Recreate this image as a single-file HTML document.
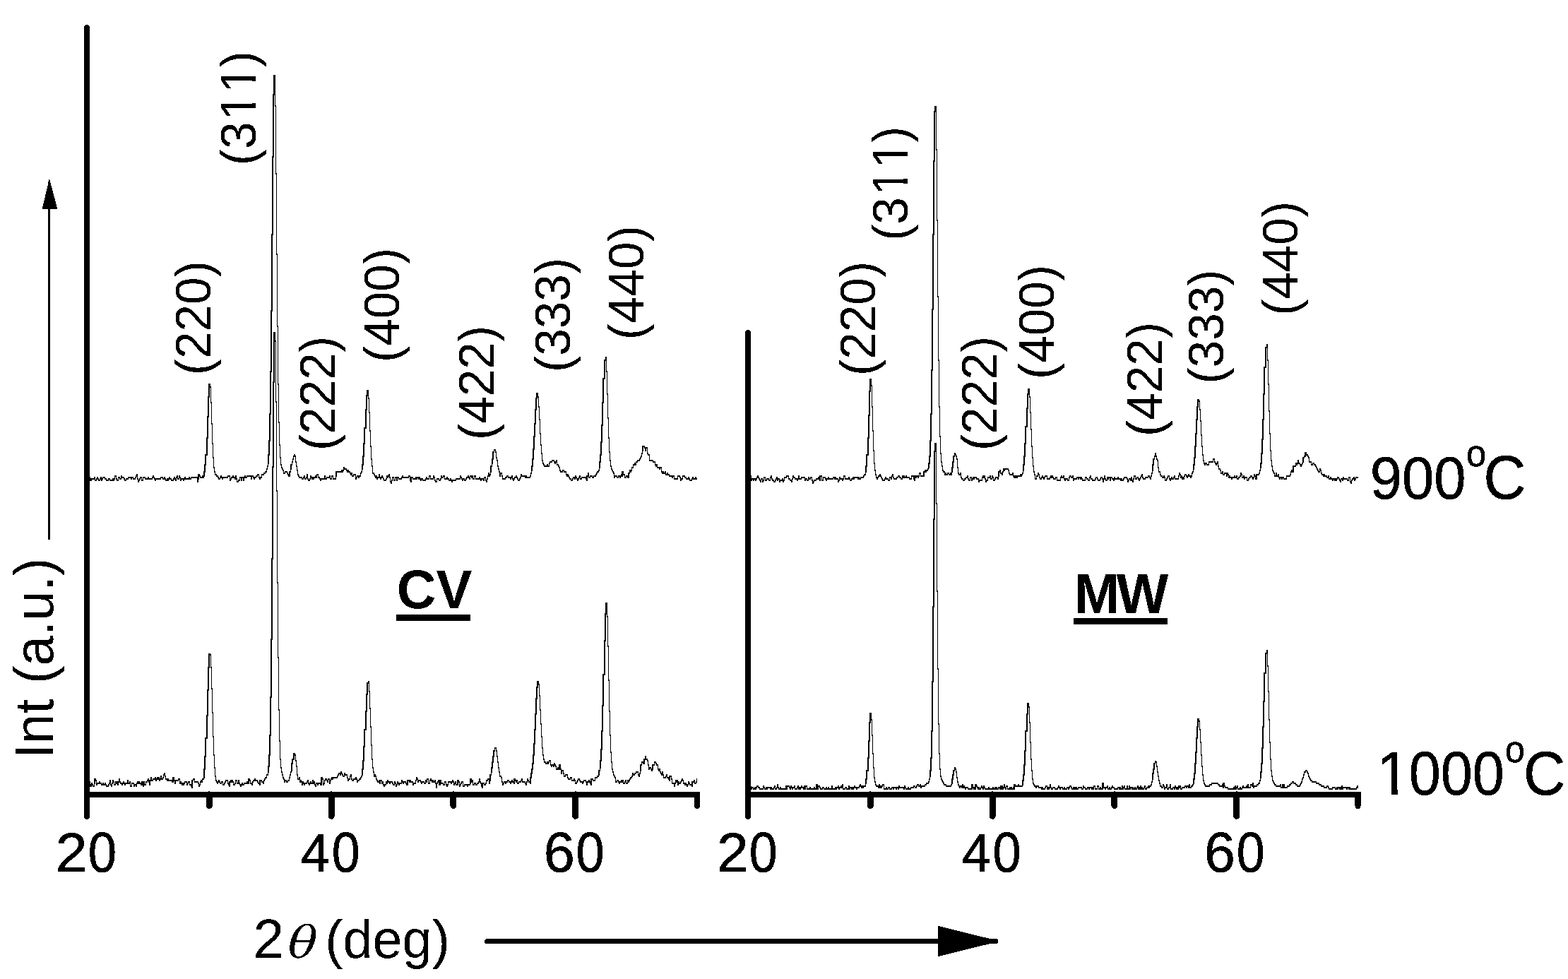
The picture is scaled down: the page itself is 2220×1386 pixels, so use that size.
<!DOCTYPE html>
<html lang="en"><head><meta charset="utf-8"><title>XRD patterns CV vs MW</title>
<style>html,body{margin:0;padding:0;background:#fff;}body{width:2220px;height:1386px;overflow:hidden;}svg{display:block;}</style></head>
<body>
<svg width="2220" height="1386" viewBox="0 0 2220 1386" style="font-kerning:none">
<defs><filter id="bin" x="0" y="0" width="100%" height="100%" filterUnits="userSpaceOnUse" color-interpolation-filters="sRGB"><feComponentTransfer><feFuncR type="discrete" tableValues="0 1"/><feFuncG type="discrete" tableValues="0 1"/><feFuncB type="discrete" tableValues="0 1"/></feComponentTransfer></filter></defs>
<g filter="url(#bin)">
<rect width="2220" height="1386" fill="#fff"/>
<g fill="none" stroke="#000" stroke-width="1" stroke-linejoin="miter" stroke-linecap="square" shape-rendering="crispEdges">
<path id="cv900" d="M127.5,675.5V677.5V679.5V677.5H128.5V679.5H129.5V677.5H130.5H131.5H132.5H133.5V675.5H134.5V679.5H135.5H136.5V677.5H137.5V675.5H138.5V677.5H139.5V679.5H140.5H141.5V677.5H142.5V675.5H143.5V679.5H144.5V677.5H145.5V675.5H146.5H147.5H148.5V677.5H149.5H150.5V679.5H152.5H153.5V677.5H154.5H155.5V679.5H156.5H157.5H158.5H159.5V677.5H160.5V679.5H161.5V677.5H162.5V673.5H163.5H164.5V677.5H165.5V679.5H166.5H167.5V675.5H168.5H169.5V677.5H170.5H171.5V673.5H172.5V675.5H173.5H174.5H175.5V677.5H176.5V679.5H177.5H178.5V677.5H180.5H181.5V675.5H182.5H183.5H184.5H185.5V677.5H186.5V675.5H187.5H188.5V677.5H189.5H190.5H191.5V675.5H192.5V673.5H193.5V671.5H194.5V677.5H195.5V681.5H196.5V679.5H197.5V677.5H198.5V675.5H199.5H200.5V679.5H201.5H202.5V675.5H203.5H204.5H205.5V677.5H206.5H208.5H209.5V675.5H210.5V677.5H211.5H212.5H213.5H214.5H215.5V675.5H216.5V673.5H217.5V675.5H218.5V677.5H219.5V679.5H220.5V677.5H221.5H222.5H223.5H224.5H225.5H226.5H227.5V675.5H228.5H229.5H230.5V677.5H231.5H232.5V675.5H233.5V677.5H234.5V679.5H236.5V677.5H237.5V679.5H238.5V677.5H239.5V675.5H240.5V677.5H241.5H242.5V679.5H243.5H244.5H245.5V677.5H246.5V675.5H247.5V677.5H248.5V679.5H249.5V675.5H250.5V673.5H251.5V677.5H252.5H253.5V673.5H254.5V675.5H255.5V679.5H256.5V677.5H257.5H258.5H259.5V679.5H260.5V677.5H261.5V675.5H262.5V677.5H264.5H265.5H266.5H267.5V675.5H268.5V677.5H269.5H270.5V675.5H271.5H272.5H273.5H274.5H275.5H276.5H277.5H278.5H279.5V681.5H280.5V677.5H281.5V671.5H282.5V673.5H283.5V675.5H284.5H285.5H286.5V673.5H287.5V675.5H288.5V673.5H289.5V667.5H290.5V657.5H291.5V643.5H293.5V619.5H294.5V589.5H295.5V561.5H296.5V543.5H297.5V547.5H298.5V569.5H299.5V599.5H300.5V627.5H301.5V647.5H302.5V661.5H303.5V667.5H304.5V671.5H305.5H306.5V673.5H307.5H308.5V675.5H309.5V677.5H310.5H311.5V675.5H312.5V673.5H313.5V675.5H314.5V677.5H315.5V675.5H316.5H317.5H318.5H319.5H321.5H322.5V673.5H323.5H324.5H325.5V679.5H326.5V677.5H327.5V675.5H328.5H329.5V673.5H330.5V675.5H331.5H332.5V677.5H333.5V673.5H334.5V677.5H335.5V681.5H336.5H337.5V679.5H338.5H339.5V675.5H340.5H341.5V679.5H342.5V675.5H343.5H344.5V679.5H345.5V675.5H346.5V673.5H347.5V675.5H349.5V673.5H350.5H351.5H352.5H353.5H354.5H355.5V677.5H356.5V673.5H357.5H358.5V675.5H359.5V677.5H360.5V675.5H361.5H362.5V673.5H363.5H364.5V671.5H365.5H366.5V675.5H367.5V677.5H368.5V675.5H369.5H370.5V671.5H371.5H372.5H373.5V669.5H374.5H375.5V667.5H377.5V663.5H378.5V659.5H379.5V655.5H380.5V643.5H381.5V623.5H382.5V585.5H383.5V525.5H384.5V439.5H385.5V331.5H386.5V221.5H387.5V133.5H388.5V106.5H389.5V149.5H390.5V245.5H391.5V359.5H392.5V461.5H393.5V543.5H394.5V597.5H395.5V629.5H396.5V647.5H397.5V657.5H398.5V661.5H399.5V663.5H400.5V665.5H401.5V669.5H402.5H403.5V667.5H405.5H406.5V669.5H407.5V671.5H408.5V673.5H409.5H410.5V667.5H411.5V663.5H412.5V657.5H413.5V653.5H414.5V649.5H415.5V645.5H416.5V643.5H417.5V645.5H418.5V653.5H419.5V659.5H420.5V665.5H421.5V671.5H422.5V673.5H423.5V675.5H424.5H425.5H426.5H427.5V677.5H428.5H429.5V675.5H430.5V673.5H431.5V677.5H433.5V675.5H434.5V671.5H435.5V677.5H436.5V679.5H437.5H438.5V677.5H439.5V673.5H440.5V675.5H441.5V677.5H442.5V675.5H443.5V677.5H444.5V675.5H445.5H446.5V673.5H447.5V675.5H448.5V671.5H449.5H450.5V675.5H451.5H452.5V677.5H453.5V679.5H454.5V677.5H455.5H456.5H457.5H458.5H459.5V673.5H460.5V677.5H462.5V675.5H463.5H464.5H465.5H466.5V673.5H467.5V677.5H468.5H469.5V673.5H470.5H471.5V677.5H472.5H473.5H474.5H475.5V673.5H476.5V667.5H477.5H478.5H479.5H480.5H481.5H482.5H483.5V665.5H484.5V667.5H485.5V665.5H486.5V661.5H487.5V663.5H488.5H490.5V665.5H491.5V667.5H492.5V665.5H493.5V667.5H494.5H495.5V669.5H496.5V671.5H497.5V669.5H498.5V673.5H499.5H500.5V671.5H501.5H502.5H503.5V677.5H504.5V675.5H505.5V673.5H506.5H507.5V675.5H508.5V673.5H509.5H510.5V669.5H511.5V667.5H512.5V663.5H513.5V657.5H514.5V645.5H515.5V627.5H516.5V605.5H518.5V579.5H519.5V559.5H520.5V552.5H521.5V563.5H522.5V583.5H523.5V609.5H524.5V631.5H525.5V649.5H526.5V659.5H527.5V669.5H528.5H529.5V671.5H530.5V673.5H531.5V675.5H532.5V673.5H533.5V677.5H534.5V675.5H535.5H536.5V671.5H537.5V675.5H538.5V677.5H539.5V675.5H540.5V673.5H541.5V675.5H542.5V677.5H543.5V679.5H544.5H546.5V677.5H547.5V673.5H548.5V675.5H549.5V673.5H550.5V671.5H551.5V675.5H552.5V681.5H553.5V683.5H554.5V679.5H555.5V675.5H556.5H557.5V679.5H558.5H559.5V675.5H560.5H561.5V679.5H562.5V675.5H563.5H564.5V677.5H565.5H566.5H567.5H568.5V675.5H569.5V673.5H570.5V675.5H571.5H572.5H574.5H575.5H576.5H577.5H578.5V673.5H579.5H580.5V679.5H581.5V681.5H582.5V675.5H583.5H584.5V677.5H585.5H586.5H587.5H588.5V675.5H589.5V677.5H590.5V675.5H591.5H592.5V677.5H593.5V675.5H594.5V677.5H595.5V679.5H596.5V677.5H597.5H598.5V679.5H599.5H600.5H602.5V677.5H603.5V675.5H604.5V677.5H605.5H606.5H607.5V673.5H608.5H609.5V677.5H610.5H611.5H612.5H613.5V673.5H614.5V675.5H615.5V679.5H616.5V681.5H617.5H618.5V677.5H619.5H620.5H621.5V679.5H622.5H623.5V677.5H624.5V673.5H625.5V675.5H626.5H627.5V673.5H628.5H629.5V677.5H631.5H632.5V675.5H633.5V677.5H634.5H635.5V679.5H636.5H637.5V677.5H638.5V679.5H639.5V681.5H640.5V679.5H641.5H642.5H643.5H644.5H645.5V677.5H646.5H647.5H648.5H649.5H650.5H651.5V673.5H652.5V675.5H653.5V677.5H654.5V679.5H655.5V677.5H656.5H657.5V679.5H659.5V677.5H660.5V675.5H661.5H662.5V673.5H663.5V675.5H664.5V677.5H665.5V673.5H666.5H667.5V675.5H668.5V673.5H669.5V677.5H670.5H671.5V673.5H672.5H673.5V677.5H674.5H675.5H676.5H677.5H678.5V675.5H679.5V677.5H680.5V679.5H681.5V677.5H682.5H683.5H684.5V679.5H685.5V675.5H687.5V679.5H688.5V681.5H689.5V677.5H690.5V673.5H691.5V669.5H692.5V673.5H693.5V671.5H694.5V667.5H695.5V659.5H696.5V655.5H697.5V649.5H698.5V639.5H699.5V636.5H700.5H701.5V639.5H702.5V647.5H703.5V651.5H704.5V659.5H705.5V663.5H706.5V667.5H707.5V673.5H708.5V669.5H709.5H710.5V673.5H711.5V677.5H712.5H713.5H715.5V675.5H716.5H717.5V673.5H718.5H719.5V675.5H720.5H721.5H722.5V677.5H723.5V675.5H724.5V673.5H725.5V677.5H726.5V679.5H727.5V677.5H728.5V675.5H729.5H730.5V673.5H731.5V675.5H732.5V677.5H733.5V679.5H734.5H735.5V677.5H736.5V675.5H737.5V671.5H738.5V673.5H739.5H740.5H741.5H743.5V675.5H744.5V673.5H745.5V675.5H746.5H747.5H748.5H749.5H750.5V673.5H751.5V669.5H752.5V665.5H753.5V659.5H754.5V649.5H755.5V635.5H756.5V617.5H757.5V599.5H758.5V579.5H759.5V563.5H760.5V556.5H761.5V561.5H762.5V575.5H763.5V593.5H764.5V613.5H765.5V629.5H766.5V641.5H767.5V651.5H768.5V655.5H769.5V657.5H770.5V659.5H772.5H773.5H774.5V657.5H775.5V659.5H776.5H777.5V655.5H778.5V653.5H779.5H780.5H781.5V651.5H782.5H783.5H784.5V653.5H785.5V655.5H786.5V653.5H787.5V651.5H788.5V657.5H789.5H790.5V659.5H791.5V661.5H792.5V665.5H793.5V667.5H794.5H795.5H796.5V665.5H797.5H798.5V667.5H800.5H801.5V671.5H802.5V673.5H803.5V671.5H804.5V673.5H805.5V675.5H806.5V677.5H807.5H808.5V679.5H809.5H810.5V677.5H811.5V675.5H812.5H813.5V677.5H814.5V673.5H815.5V675.5H816.5V677.5H817.5V679.5H818.5V677.5H819.5V675.5H820.5V673.5H821.5V677.5H822.5H823.5V675.5H824.5H825.5H826.5H828.5H829.5V677.5H830.5V679.5H831.5V673.5H832.5V669.5H833.5V675.5H834.5H835.5V673.5H836.5H837.5H838.5V675.5H839.5H840.5V673.5H841.5H842.5H843.5V671.5H844.5V669.5H845.5V667.5H846.5H847.5V665.5H848.5V661.5H849.5V653.5H850.5V643.5H851.5V625.5H852.5V601.5H853.5V569.5H854.5V535.5H856.5V509.5H857.5V505.5H858.5V525.5H859.5V557.5H860.5V591.5H861.5V619.5H862.5V639.5H863.5V651.5H864.5V659.5H865.5V663.5H866.5V665.5H867.5V667.5H868.5V669.5H869.5V675.5H870.5V673.5H871.5H872.5H873.5V675.5H874.5H875.5V673.5H876.5H877.5V675.5H878.5V673.5H879.5V671.5H880.5V673.5H881.5V667.5H882.5V671.5H884.5V675.5H885.5H886.5V673.5H887.5H888.5V675.5H889.5H890.5V669.5H891.5V665.5H892.5V667.5H893.5V665.5H894.5V661.5H895.5H896.5V657.5H897.5H898.5V655.5H899.5V657.5H900.5V653.5H901.5H902.5V651.5H903.5H904.5H905.5V649.5H906.5V647.5H907.5V645.5H908.5V641.5H909.5V637.5H910.5V631.5H912.5V633.5H913.5V637.5H914.5V633.5H915.5H916.5V641.5H917.5V643.5H918.5H919.5V651.5H920.5H921.5H922.5H923.5H924.5V653.5H925.5H926.5H927.5V657.5H928.5V659.5H929.5V657.5H930.5V661.5H931.5H932.5H933.5V663.5H934.5V661.5H935.5H936.5V667.5H937.5V669.5H938.5V667.5H939.5V669.5H941.5V667.5H942.5V671.5H943.5H944.5V669.5H945.5V671.5H946.5H947.5V673.5H948.5H949.5H950.5H951.5V675.5H952.5V673.5H953.5H954.5V677.5H955.5H956.5H957.5H958.5H959.5V673.5H960.5H961.5H962.5V675.5H963.5V679.5H964.5V677.5H965.5H966.5V673.5H967.5H969.5V675.5H970.5H971.5V677.5H972.5H973.5H974.5V675.5H975.5V677.5H976.5V679.5H977.5H978.5H979.5V677.5H980.5V675.5H981.5V677.5H982.5H983.5H984.5V675.5H985.5V677.5H986.5"/><use href="#cv900" y="1"/><path d="M280.5,678.5V671.5M288.5,674.5V667.5M289.5,668.5V657.5M290.5,658.5V643.5M292.5,644.5V619.5M293.5,620.5V589.5M294.5,590.5V561.5M295.5,562.5V543.5M379.5,656.5V643.5M380.5,644.5V623.5M381.5,624.5V585.5M382.5,586.5V525.5M383.5,526.5V439.5M384.5,440.5V331.5M385.5,332.5V221.5M386.5,222.5V133.5M387.5,134.5V106.5M409.5,674.5V667.5M411.5,664.5V657.5M475.5,674.5V667.5M512.5,664.5V657.5M513.5,658.5V645.5M514.5,646.5V627.5M515.5,628.5V605.5M517.5,606.5V579.5M518.5,580.5V559.5M519.5,560.5V552.5M581.5,682.5V675.5M694.5,668.5V659.5M696.5,656.5V649.5M697.5,650.5V639.5M752.5,666.5V659.5M753.5,660.5V649.5M754.5,650.5V635.5M755.5,636.5V617.5M756.5,618.5V599.5M757.5,600.5V579.5M758.5,580.5V563.5M759.5,564.5V556.5M830.5,680.5V673.5M848.5,662.5V653.5M849.5,654.5V643.5M850.5,644.5V625.5M851.5,626.5V601.5M852.5,602.5V569.5M853.5,570.5V535.5M855.5,536.5V509.5M880.5,674.5V667.5M889.5,676.5V669.5M909.5,638.5V631.5"/>
<path id="cv1000" d="M127.5,1106.5V1108.5V1112.5V1108.5V1110.5H128.5V1112.5H129.5V1108.5H130.5V1110.5H131.5V1112.5H132.5H133.5V1108.5H134.5V1102.5H135.5V1104.5H136.5V1110.5H137.5V1108.5H138.5H139.5H140.5V1106.5H141.5V1108.5H142.5H143.5V1110.5H144.5H145.5V1108.5H146.5V1110.5H147.5H148.5V1108.5H149.5V1110.5H150.5V1112.5H152.5H153.5V1110.5H154.5V1108.5H155.5V1104.5H156.5V1110.5H157.5V1112.5H158.5V1108.5H159.5V1104.5H160.5V1106.5H161.5V1110.5H162.5H163.5V1106.5H164.5V1108.5H165.5V1106.5H166.5V1110.5H167.5V1106.5H168.5V1102.5H169.5V1106.5H170.5V1108.5H171.5H172.5V1110.5H173.5V1108.5H174.5V1106.5H175.5V1108.5H176.5V1110.5H177.5V1108.5H178.5H180.5V1104.5H181.5V1108.5H182.5H183.5V1106.5H184.5V1112.5H185.5H186.5V1108.5H187.5H188.5H189.5V1112.5H190.5V1110.5H191.5H192.5V1112.5H193.5V1108.5H194.5V1106.5H195.5V1108.5H196.5V1106.5H197.5V1108.5H198.5H199.5V1110.5H200.5V1106.5H201.5V1110.5H202.5V1112.5H203.5V1106.5H204.5V1110.5H205.5H206.5V1106.5H208.5V1104.5H209.5V1102.5H210.5V1106.5H211.5V1110.5H212.5V1104.5H213.5V1100.5H214.5V1104.5H215.5H216.5V1102.5H217.5H218.5H219.5V1100.5H220.5V1104.5H221.5V1102.5H222.5V1100.5H223.5V1102.5H224.5V1100.5H225.5V1104.5H226.5V1102.5H227.5V1098.5H228.5V1102.5H229.5H230.5V1100.5H231.5V1096.5H232.5V1094.5H233.5V1098.5H234.5V1102.5H236.5V1104.5H237.5V1102.5H238.5V1104.5H239.5H240.5H241.5H242.5H243.5V1106.5H244.5H245.5V1100.5H246.5V1104.5H247.5V1108.5H248.5V1104.5H249.5H250.5H251.5H252.5V1102.5H253.5H254.5V1108.5H255.5V1106.5H256.5V1108.5H257.5V1110.5H258.5V1108.5H259.5V1110.5H260.5V1108.5H261.5V1106.5H262.5H264.5V1110.5H265.5V1108.5H266.5V1106.5H267.5H268.5V1110.5H269.5H270.5V1112.5H271.5V1114.5H272.5V1104.5H273.5V1102.5H274.5H275.5V1106.5H276.5H277.5H278.5H279.5H280.5V1108.5H281.5V1112.5H282.5V1110.5H283.5V1106.5H284.5V1104.5H285.5V1106.5H286.5V1102.5H287.5H288.5V1100.5H289.5V1088.5H290.5V1070.5H291.5V1044.5H293.5V1012.5H294.5V976.5H295.5V944.5H296.5V925.5H297.5V926.5H298.5V944.5H299.5V974.5H300.5V1008.5H301.5V1042.5H302.5V1068.5H303.5V1086.5H304.5V1098.5H305.5V1104.5H306.5V1106.5H307.5V1108.5H308.5V1106.5H309.5V1104.5H310.5V1106.5H311.5V1108.5H312.5H313.5V1106.5H314.5H315.5V1110.5H316.5H317.5V1108.5H318.5V1106.5H319.5V1104.5H321.5H322.5V1108.5H323.5V1110.5H324.5V1112.5H325.5V1106.5H326.5V1104.5H327.5V1106.5H328.5V1104.5H329.5V1106.5H330.5V1110.5H331.5H332.5V1108.5H333.5V1104.5H334.5H335.5V1108.5H336.5H337.5V1104.5H338.5V1108.5H339.5V1110.5H340.5V1112.5H341.5V1110.5H342.5V1108.5H343.5V1110.5H344.5H345.5V1108.5H346.5H347.5H349.5V1106.5H350.5V1108.5H351.5H352.5V1102.5H353.5V1104.5H354.5V1108.5H355.5H356.5V1110.5H357.5V1106.5H358.5V1104.5H359.5H360.5V1102.5H361.5V1104.5H362.5H363.5H364.5V1106.5H365.5V1108.5H366.5H367.5V1110.5H368.5V1104.5H369.5H370.5V1106.5H371.5H372.5V1108.5H373.5V1104.5H374.5V1102.5H375.5V1100.5H377.5V1096.5H378.5H379.5V1092.5H380.5V1084.5H381.5V1068.5H382.5V1040.5H383.5V986.5H384.5V904.5H385.5V790.5H386.5V660.5H387.5V540.5H388.5V470.5H389.5V482.5H390.5V568.5H391.5V694.5H392.5V824.5H393.5V930.5H394.5V1004.5H395.5V1048.5H396.5V1074.5H397.5V1086.5H398.5V1092.5H399.5V1096.5H400.5V1100.5H401.5V1102.5H402.5V1106.5H403.5V1104.5H405.5V1106.5H406.5H407.5V1104.5H408.5H409.5V1100.5H410.5V1096.5H411.5V1092.5H412.5V1090.5H413.5V1080.5H414.5V1074.5H415.5H416.5V1066.5H417.5V1068.5H418.5V1076.5H419.5V1084.5H420.5V1096.5H421.5V1102.5H422.5H423.5V1100.5H424.5V1106.5H425.5V1104.5H426.5V1106.5H427.5V1110.5H428.5V1106.5H429.5V1108.5H430.5V1110.5H431.5V1108.5H433.5H434.5V1106.5H435.5V1104.5H436.5V1108.5H437.5V1110.5H438.5V1108.5H439.5V1106.5H440.5V1108.5H441.5H442.5V1104.5H443.5V1108.5H444.5V1106.5H445.5V1110.5H446.5V1112.5H447.5V1108.5H448.5H449.5V1110.5H450.5V1108.5H451.5H452.5H453.5V1110.5H454.5H455.5V1100.5H456.5V1102.5H457.5V1110.5H458.5V1108.5H459.5V1104.5H460.5V1102.5H462.5V1104.5H463.5V1106.5H464.5V1102.5H465.5H466.5V1108.5H467.5V1104.5H468.5V1102.5H469.5V1100.5H470.5V1102.5H471.5V1100.5H472.5H473.5H474.5H475.5H476.5H477.5V1098.5H478.5V1096.5H479.5V1094.5H480.5H481.5V1096.5H482.5V1092.5H483.5V1094.5H484.5V1096.5H485.5V1098.5H486.5H487.5V1094.5H488.5V1096.5H490.5H491.5V1100.5H492.5V1104.5H493.5V1102.5H494.5H495.5V1098.5H496.5V1096.5H497.5V1102.5H498.5V1104.5H499.5H500.5V1102.5H501.5H502.5H503.5V1100.5H504.5V1102.5H505.5V1106.5H506.5V1104.5H507.5H508.5V1102.5H509.5H510.5V1100.5H511.5V1098.5H512.5V1096.5H513.5V1088.5H514.5V1076.5H515.5V1056.5H516.5V1032.5H518.5V1006.5H519.5V982.5H520.5V966.5H521.5V964.5H522.5V978.5H523.5V1002.5H524.5V1028.5H525.5V1054.5H526.5V1074.5H527.5V1086.5H528.5V1092.5H529.5V1098.5H530.5V1096.5H531.5V1098.5H532.5V1102.5H533.5V1104.5H534.5V1106.5H535.5H536.5V1104.5H537.5V1108.5H538.5V1104.5H539.5H540.5V1108.5H541.5V1106.5H542.5V1110.5H543.5V1112.5H544.5V1110.5H546.5V1106.5H547.5V1108.5H548.5V1104.5H549.5V1106.5H550.5H551.5V1108.5H552.5V1106.5H553.5H554.5H555.5V1108.5H556.5V1110.5H557.5H558.5V1106.5H559.5V1108.5H560.5V1112.5H561.5V1110.5H562.5V1106.5H563.5V1108.5H564.5V1110.5H565.5V1108.5H566.5H567.5H568.5V1104.5H569.5V1106.5H570.5V1108.5H571.5V1106.5H572.5H574.5V1108.5H575.5V1110.5H576.5H577.5V1104.5H578.5H579.5V1106.5H580.5V1104.5H581.5V1106.5H582.5H583.5H584.5V1110.5H585.5V1108.5H586.5H587.5H588.5V1104.5H589.5V1100.5H590.5V1102.5H591.5V1106.5H592.5V1104.5H593.5H594.5H595.5V1106.5H596.5V1108.5H597.5V1106.5H598.5H599.5H600.5V1108.5H602.5V1104.5H603.5V1106.5H604.5V1102.5H605.5H606.5V1108.5H607.5H608.5V1104.5H609.5V1102.5H610.5V1104.5H611.5V1106.5H612.5V1104.5H613.5V1106.5H614.5H615.5V1104.5H616.5V1108.5H617.5V1114.5H618.5V1108.5H619.5V1106.5H620.5V1104.5H621.5V1110.5H622.5H623.5V1104.5H624.5V1108.5H625.5H626.5H627.5V1110.5H628.5H629.5V1106.5H631.5V1110.5H632.5V1112.5H633.5V1110.5H634.5V1106.5H635.5H636.5H637.5H638.5V1108.5H639.5V1106.5H640.5V1104.5H641.5V1106.5H642.5V1110.5H643.5V1108.5H644.5V1106.5H645.5V1110.5H646.5H647.5H648.5V1104.5H649.5V1106.5H650.5V1112.5H651.5V1110.5H652.5V1108.5H653.5V1106.5H654.5H655.5V1112.5H656.5H657.5V1110.5H659.5H660.5H661.5V1112.5H662.5V1110.5H663.5H664.5H665.5V1108.5H666.5V1102.5H667.5V1106.5H668.5V1104.5H669.5V1110.5H670.5H671.5V1108.5H672.5H673.5V1110.5H674.5H675.5V1108.5H676.5H677.5V1106.5H678.5V1102.5H679.5V1106.5H680.5V1108.5H681.5V1112.5H682.5V1114.5H683.5V1108.5H684.5H685.5V1110.5H687.5V1108.5H688.5V1104.5H689.5H690.5V1102.5H691.5H692.5V1108.5H693.5V1104.5H694.5V1096.5H695.5V1092.5H696.5V1086.5H697.5V1078.5H698.5V1070.5H699.5V1062.5H700.5V1058.5H701.5H702.5V1062.5H703.5V1070.5H704.5V1078.5H705.5V1086.5H706.5V1092.5H707.5V1098.5H708.5H709.5V1100.5H710.5V1106.5H711.5V1110.5H712.5V1108.5H713.5V1106.5H715.5V1108.5H716.5V1106.5H717.5H718.5V1104.5H719.5H720.5V1106.5H721.5H722.5V1108.5H723.5V1106.5H724.5V1104.5H725.5V1106.5H726.5H727.5V1108.5H728.5V1102.5H729.5V1104.5H730.5V1106.5H731.5V1104.5H732.5V1108.5H733.5H734.5V1106.5H735.5H736.5H737.5V1104.5H738.5V1102.5H739.5V1106.5H740.5H741.5H743.5V1108.5H744.5V1110.5H745.5V1106.5H746.5V1102.5H747.5V1104.5H748.5V1106.5H749.5H750.5V1108.5H751.5V1100.5H752.5V1094.5H753.5V1088.5H754.5V1080.5H755.5V1068.5H756.5V1052.5H757.5V1032.5H758.5V1010.5H759.5V988.5H760.5V972.5H761.5V964.5H762.5V968.5H763.5V984.5H764.5V1004.5H765.5V1024.5H766.5V1042.5H767.5V1058.5H768.5V1068.5H769.5V1074.5H770.5V1078.5H772.5V1080.5H773.5H774.5V1078.5H775.5V1080.5H776.5V1078.5H777.5V1076.5H778.5H779.5V1082.5H780.5V1084.5H781.5V1082.5H782.5H783.5V1084.5H784.5V1080.5H785.5V1082.5H786.5V1084.5H787.5V1088.5H788.5H789.5V1086.5H790.5V1088.5H791.5H792.5V1082.5H793.5V1088.5H794.5V1094.5H795.5V1090.5H796.5H797.5V1094.5H798.5V1098.5H800.5V1096.5H801.5H802.5H803.5V1100.5H804.5V1102.5H805.5H806.5H807.5V1100.5H808.5H809.5V1104.5H810.5H811.5H812.5V1102.5H813.5V1104.5H814.5V1108.5H815.5H816.5V1106.5H817.5V1104.5H818.5V1102.5H819.5H820.5V1104.5H821.5V1106.5H822.5H823.5H824.5V1108.5H825.5V1106.5H826.5V1104.5H828.5H829.5V1106.5H830.5V1110.5H831.5V1106.5H832.5H833.5V1104.5H834.5V1106.5H835.5V1108.5H836.5V1110.5H837.5V1102.5H838.5H839.5V1104.5H840.5H841.5H842.5V1100.5H843.5H844.5H845.5V1098.5H846.5H847.5V1096.5H848.5V1090.5H849.5V1086.5H850.5V1076.5H851.5V1060.5H852.5V1034.5H853.5V998.5H854.5V954.5H856.5V906.5H857.5V868.5H858.5V853.5H859.5V872.5H860.5V914.5H861.5V962.5H862.5V1006.5H863.5V1040.5H864.5V1064.5H865.5V1078.5H866.5V1088.5H867.5V1092.5H868.5V1096.5H869.5V1098.5H870.5V1100.5H871.5V1106.5H872.5H873.5V1104.5H874.5H875.5V1106.5H876.5V1108.5H877.5V1106.5H878.5H879.5V1104.5H880.5V1106.5H881.5V1104.5H882.5V1108.5H884.5V1106.5H885.5V1104.5H886.5V1108.5H887.5H888.5V1104.5H889.5V1106.5H890.5V1104.5H891.5V1102.5H892.5V1100.5H893.5H894.5V1098.5H895.5V1094.5H896.5V1096.5H897.5H898.5V1094.5H899.5H900.5V1092.5H901.5H902.5H903.5V1096.5H904.5V1098.5H905.5V1094.5H906.5V1090.5H907.5V1082.5H908.5V1078.5H909.5H910.5V1080.5H912.5V1074.5H913.5V1070.5H914.5V1074.5H915.5H916.5V1076.5H917.5V1082.5H918.5V1088.5H919.5V1086.5H920.5H921.5V1088.5H922.5V1090.5H923.5V1088.5H924.5V1082.5H925.5H926.5V1078.5H927.5H928.5V1080.5H929.5V1082.5H930.5H931.5V1088.5H932.5V1090.5H933.5V1088.5H934.5V1092.5H935.5V1094.5H936.5V1096.5H937.5V1092.5H938.5V1096.5H939.5V1100.5H941.5H942.5V1098.5H943.5V1096.5H944.5V1100.5H945.5H946.5V1102.5H947.5V1104.5H948.5V1098.5H949.5H950.5V1102.5H951.5V1108.5H952.5H953.5H954.5V1112.5H955.5V1108.5H956.5V1104.5H957.5V1106.5H958.5V1104.5H959.5V1110.5H960.5V1106.5H961.5V1108.5H962.5H963.5V1106.5H964.5V1104.5H965.5V1102.5H966.5V1104.5H967.5V1108.5H969.5V1110.5H970.5V1108.5H971.5V1110.5H972.5V1112.5H973.5V1110.5H974.5V1106.5H975.5V1108.5H976.5V1110.5H977.5H978.5H979.5V1112.5H980.5V1106.5H981.5H982.5V1104.5H983.5V1108.5H984.5H985.5V1106.5H986.5V1102.5"/><use href="#cv1000" y="1"/><path d="M133.5,1109.5V1102.5M202.5,1113.5V1106.5M211.5,1111.5V1104.5M244.5,1107.5V1100.5M271.5,1115.5V1104.5M288.5,1101.5V1088.5M289.5,1089.5V1070.5M290.5,1071.5V1044.5M292.5,1045.5V1012.5M293.5,1013.5V976.5M294.5,977.5V944.5M295.5,945.5V925.5M324.5,1113.5V1106.5M351.5,1109.5V1102.5M367.5,1111.5V1104.5M379.5,1093.5V1084.5M380.5,1085.5V1068.5M381.5,1069.5V1040.5M382.5,1041.5V986.5M383.5,987.5V904.5M384.5,905.5V790.5M385.5,791.5V660.5M386.5,661.5V540.5M387.5,541.5V470.5M412.5,1091.5V1080.5M413.5,1081.5V1074.5M415.5,1075.5V1066.5M454.5,1111.5V1100.5M512.5,1097.5V1088.5M513.5,1089.5V1076.5M514.5,1077.5V1056.5M515.5,1057.5V1032.5M517.5,1033.5V1006.5M518.5,1007.5V982.5M519.5,983.5V966.5M576.5,1111.5V1104.5M617.5,1115.5V1108.5M622.5,1111.5V1104.5M647.5,1111.5V1104.5M665.5,1109.5V1102.5M682.5,1115.5V1108.5M693.5,1105.5V1096.5M695.5,1093.5V1086.5M696.5,1087.5V1078.5M697.5,1079.5V1070.5M698.5,1071.5V1062.5M727.5,1109.5V1102.5M750.5,1109.5V1100.5M751.5,1101.5V1094.5M752.5,1095.5V1088.5M753.5,1089.5V1080.5M754.5,1081.5V1068.5M755.5,1069.5V1052.5M756.5,1053.5V1032.5M757.5,1033.5V1010.5M758.5,1011.5V988.5M759.5,989.5V972.5M760.5,973.5V964.5M791.5,1089.5V1082.5M836.5,1111.5V1102.5M847.5,1097.5V1090.5M849.5,1087.5V1076.5M850.5,1077.5V1060.5M851.5,1061.5V1034.5M852.5,1035.5V998.5M853.5,999.5V954.5M855.5,955.5V906.5M856.5,907.5V868.5M857.5,869.5V853.5M906.5,1091.5V1082.5M911.5,1081.5V1074.5M923.5,1089.5V1082.5M947.5,1105.5V1098.5M979.5,1113.5V1106.5"/>
<path id="mw900" d="M1063.5,673.5V675.5V677.5V679.5H1064.5V677.5H1065.5H1066.5V679.5H1067.5V677.5H1068.5H1069.5V679.5H1070.5V677.5H1071.5V675.5H1072.5V673.5H1073.5V675.5H1074.5V677.5H1075.5V679.5H1076.5V681.5H1077.5V677.5H1078.5H1079.5V681.5H1080.5V679.5H1081.5V675.5H1082.5H1083.5V679.5H1084.5H1085.5V677.5H1086.5H1088.5V679.5H1089.5H1090.5V675.5H1091.5V673.5H1092.5V677.5H1093.5V679.5H1094.5H1095.5V681.5H1096.5H1097.5V679.5H1098.5V677.5H1099.5V675.5H1100.5V679.5H1101.5V677.5H1102.5H1103.5V681.5H1104.5V679.5H1105.5H1106.5H1107.5V677.5H1108.5V681.5H1109.5V679.5H1110.5V675.5H1111.5H1112.5H1113.5V673.5H1114.5H1116.5V677.5H1117.5H1118.5V679.5H1119.5H1120.5V681.5H1121.5V677.5H1122.5V673.5H1123.5V675.5H1124.5H1125.5V677.5H1126.5H1127.5H1128.5V679.5H1129.5V677.5H1130.5V673.5H1131.5V677.5H1132.5H1133.5H1134.5V675.5H1135.5H1136.5H1137.5H1138.5H1139.5V679.5H1140.5V677.5H1141.5H1142.5V679.5H1144.5V675.5H1145.5V677.5H1146.5H1147.5V675.5H1148.5H1149.5V679.5H1150.5V683.5H1151.5V681.5H1152.5V679.5H1153.5H1154.5H1155.5V677.5H1156.5H1157.5H1158.5V675.5H1159.5V677.5H1160.5V679.5H1161.5V673.5H1162.5H1163.5V679.5H1164.5H1165.5V675.5H1166.5H1167.5H1168.5V677.5H1169.5V679.5H1170.5V677.5H1172.5V675.5H1173.5V677.5H1174.5H1175.5H1176.5H1177.5H1178.5H1179.5V675.5H1180.5H1181.5V677.5H1182.5V675.5H1183.5V677.5H1184.5H1185.5H1186.5V681.5H1187.5V679.5H1188.5V675.5H1189.5V677.5H1190.5H1191.5H1192.5V679.5H1193.5V677.5H1194.5V673.5H1195.5H1196.5V677.5H1197.5H1198.5H1200.5H1201.5V675.5H1202.5V677.5H1203.5V679.5H1204.5H1205.5V677.5H1206.5H1207.5V675.5H1208.5V677.5H1209.5V675.5H1210.5H1211.5H1212.5H1213.5H1214.5V677.5H1215.5V675.5H1216.5V677.5H1217.5H1218.5V675.5H1219.5H1220.5H1221.5H1222.5V673.5H1223.5V671.5H1224.5H1225.5V667.5H1226.5V659.5H1227.5V643.5H1229.5V619.5H1230.5V587.5H1231.5V553.5H1232.5V536.5H1233.5V545.5H1234.5V575.5H1235.5V609.5H1236.5V637.5H1237.5V655.5H1238.5V665.5H1239.5V671.5H1240.5V675.5H1241.5V677.5H1242.5V675.5H1243.5V673.5H1244.5H1245.5V671.5H1246.5V673.5H1247.5V675.5H1248.5V677.5H1249.5V679.5H1250.5H1251.5H1252.5V677.5H1253.5V675.5H1254.5V677.5H1255.5H1257.5V679.5H1258.5H1259.5V675.5H1260.5H1261.5V677.5H1262.5V673.5H1263.5V671.5H1264.5V675.5H1265.5V677.5H1266.5H1267.5H1268.5H1269.5V675.5H1270.5H1271.5V673.5H1272.5H1273.5V675.5H1274.5H1275.5V677.5H1276.5H1277.5V673.5H1278.5V675.5H1279.5V673.5H1280.5V675.5H1281.5H1282.5V673.5H1283.5V675.5H1285.5H1286.5H1287.5V677.5H1288.5H1289.5H1290.5V673.5H1291.5H1292.5H1293.5V677.5H1294.5V679.5H1295.5V673.5H1296.5V675.5H1297.5V673.5H1298.5H1299.5V675.5H1300.5V673.5H1301.5V669.5H1302.5H1303.5V673.5H1304.5H1305.5H1306.5H1307.5H1308.5V667.5H1309.5V665.5H1310.5V667.5H1311.5V665.5H1313.5V663.5H1314.5V661.5H1315.5V655.5H1316.5V645.5H1317.5V623.5H1318.5V585.5H1319.5V523.5H1320.5V437.5H1321.5V331.5H1322.5V227.5H1323.5V157.5H1324.5V150.5H1325.5V211.5H1326.5V311.5H1327.5V419.5H1328.5V509.5H1329.5V575.5H1330.5V617.5H1331.5V641.5H1332.5V653.5H1333.5V659.5H1334.5V665.5H1335.5V667.5H1336.5H1337.5V671.5H1338.5V669.5H1339.5V671.5H1341.5V669.5H1342.5H1343.5V671.5H1344.5H1345.5V669.5H1346.5V671.5H1347.5V667.5H1348.5V661.5H1349.5V653.5H1350.5V645.5H1351.5V641.5H1352.5V643.5H1353.5V645.5H1354.5V649.5H1355.5V661.5H1356.5V669.5H1357.5V671.5H1358.5H1359.5V669.5H1360.5V675.5H1361.5V677.5H1362.5H1363.5V679.5H1364.5H1365.5V677.5H1366.5H1367.5V675.5H1369.5V673.5H1370.5V677.5H1371.5V679.5H1372.5H1373.5V675.5H1374.5H1375.5V679.5H1376.5V677.5H1377.5V675.5H1378.5V677.5H1379.5V675.5H1380.5H1381.5H1382.5V677.5H1383.5H1384.5H1385.5V681.5H1386.5V679.5H1387.5H1388.5H1389.5H1390.5V675.5H1391.5V673.5H1392.5V675.5H1393.5V673.5H1394.5V677.5H1395.5V681.5H1396.5V679.5H1398.5V675.5H1399.5H1400.5H1401.5V673.5H1402.5V677.5H1403.5H1404.5V673.5H1405.5V675.5H1406.5V679.5H1407.5H1408.5V677.5H1409.5V675.5H1410.5H1411.5H1412.5V677.5H1413.5V673.5H1414.5V667.5H1415.5V665.5H1416.5V669.5H1417.5H1418.5V671.5H1419.5V667.5H1420.5V663.5H1421.5V665.5H1422.5V663.5H1423.5H1424.5H1426.5H1427.5V665.5H1428.5V669.5H1429.5V671.5H1430.5H1431.5H1432.5H1433.5V669.5H1434.5V673.5H1435.5V675.5H1436.5V673.5H1437.5V675.5H1438.5V673.5H1439.5V675.5H1440.5V673.5H1441.5H1442.5H1443.5H1444.5V671.5H1445.5V673.5H1446.5V671.5H1447.5V669.5H1448.5V665.5H1449.5V657.5H1450.5V645.5H1451.5V627.5H1452.5V603.5H1454.5V577.5H1455.5V557.5H1456.5V550.5H1457.5V561.5H1458.5V583.5H1459.5V607.5H1460.5V631.5H1461.5V647.5H1462.5V659.5H1463.5V667.5H1464.5V671.5H1465.5V677.5H1466.5H1467.5V673.5H1468.5H1469.5V669.5H1470.5V671.5H1471.5V675.5H1472.5V677.5H1473.5H1474.5V675.5H1475.5V673.5H1476.5V675.5H1477.5V677.5H1478.5V675.5H1479.5V673.5H1480.5H1482.5V677.5H1483.5H1484.5H1485.5H1486.5V675.5H1487.5V673.5H1488.5V675.5H1489.5V673.5H1490.5V675.5H1491.5V677.5H1492.5H1493.5H1494.5V675.5H1495.5H1496.5V679.5H1497.5H1498.5H1499.5H1500.5H1501.5V675.5H1502.5V673.5H1503.5V675.5H1504.5H1505.5V673.5H1506.5V677.5H1507.5V679.5H1508.5V677.5H1510.5H1511.5V679.5H1512.5H1513.5V675.5H1514.5V673.5H1515.5H1516.5V675.5H1517.5H1518.5V673.5H1519.5V679.5H1520.5V677.5H1521.5H1522.5H1523.5H1524.5V675.5H1525.5H1526.5V677.5H1527.5V675.5H1528.5H1529.5V677.5H1530.5V675.5H1531.5V677.5H1532.5V679.5H1533.5H1534.5H1535.5H1536.5V675.5H1538.5V677.5H1539.5H1540.5V679.5H1541.5H1542.5V675.5H1543.5V673.5H1544.5V677.5H1545.5H1546.5V679.5H1547.5H1548.5H1549.5H1550.5V677.5H1551.5V675.5H1552.5H1553.5V677.5H1554.5V679.5H1555.5H1556.5H1557.5V677.5H1558.5V675.5H1559.5H1560.5V677.5H1561.5V681.5H1562.5V677.5H1563.5V673.5H1564.5V677.5H1565.5V679.5H1567.5V675.5H1568.5V677.5H1569.5V675.5H1570.5H1571.5V679.5H1572.5V675.5H1573.5H1574.5V677.5H1575.5H1576.5V679.5H1577.5V675.5H1578.5V677.5H1579.5H1580.5H1581.5H1582.5V675.5H1583.5V677.5H1584.5H1585.5H1586.5V679.5H1587.5V677.5H1588.5V679.5H1589.5H1590.5V677.5H1591.5V675.5H1592.5H1593.5H1595.5V677.5H1596.5V681.5H1597.5V679.5H1598.5V677.5H1599.5H1600.5V679.5H1601.5V675.5H1602.5V679.5H1603.5V681.5H1604.5V677.5H1605.5V673.5H1606.5H1607.5V677.5H1608.5H1609.5V675.5H1610.5H1611.5V677.5H1612.5V679.5H1613.5V677.5H1614.5V675.5H1615.5V673.5H1616.5V671.5H1617.5V675.5H1618.5V677.5H1619.5H1620.5H1621.5V675.5H1623.5H1624.5H1625.5V673.5H1626.5H1627.5V675.5H1628.5V677.5H1629.5V673.5H1630.5V669.5H1631.5V665.5H1632.5V657.5H1633.5V649.5H1634.5V645.5H1635.5V641.5H1636.5V645.5H1637.5V649.5H1638.5V651.5H1639.5V661.5H1640.5V667.5H1641.5H1642.5V671.5H1643.5V673.5H1644.5H1645.5V675.5H1646.5H1647.5V673.5H1648.5V675.5H1649.5V679.5H1651.5V677.5H1652.5V675.5H1653.5V673.5H1654.5H1655.5V677.5H1656.5V679.5H1657.5V677.5H1658.5V675.5H1659.5V677.5H1660.5H1661.5V675.5H1662.5V673.5H1663.5V677.5H1664.5H1665.5H1666.5H1667.5H1668.5V673.5H1669.5V669.5H1670.5V671.5H1671.5V675.5H1672.5V673.5H1673.5V677.5H1674.5V675.5H1675.5V677.5H1676.5V673.5H1677.5V671.5H1679.5V673.5H1680.5V675.5H1681.5V673.5H1682.5V671.5H1683.5V673.5H1684.5H1685.5V675.5H1686.5V673.5H1687.5V669.5H1688.5V667.5H1689.5V663.5H1690.5V657.5H1691.5V647.5H1692.5V631.5H1693.5V613.5H1694.5V593.5H1695.5V575.5H1696.5V565.5H1697.5V567.5H1698.5V579.5H1699.5V595.5H1700.5V615.5H1701.5V631.5H1702.5V643.5H1703.5V651.5H1704.5V655.5H1705.5V657.5H1706.5V655.5H1708.5V657.5H1709.5H1710.5H1711.5V653.5H1712.5H1713.5H1714.5H1715.5H1716.5H1717.5V649.5H1718.5H1719.5V653.5H1720.5V655.5H1721.5V657.5H1722.5V655.5H1723.5V653.5H1724.5V659.5H1725.5V663.5H1726.5H1727.5V665.5H1728.5V669.5H1729.5H1730.5V667.5H1731.5V671.5H1732.5H1733.5V669.5H1734.5H1736.5V673.5H1737.5V669.5H1738.5V671.5H1739.5V675.5H1740.5V673.5H1741.5V675.5H1742.5H1743.5V677.5H1744.5V675.5H1745.5H1746.5H1747.5V673.5H1748.5V675.5H1749.5H1750.5V673.5H1751.5V677.5H1752.5H1753.5V675.5H1754.5H1755.5V673.5H1756.5V669.5H1757.5V671.5H1758.5V675.5H1759.5H1760.5V673.5H1761.5V677.5H1762.5V675.5H1764.5H1765.5V679.5H1766.5H1767.5V677.5H1768.5V675.5H1769.5H1770.5V673.5H1771.5H1772.5V675.5H1773.5V677.5H1774.5V675.5H1775.5V671.5H1776.5V673.5H1777.5V677.5H1778.5H1779.5V671.5H1780.5H1781.5H1782.5V669.5H1783.5V665.5H1784.5V661.5H1785.5V655.5H1786.5V641.5H1787.5V621.5H1788.5V593.5H1789.5V557.5H1790.5V519.5H1792.5V491.5H1793.5V487.5H1794.5V509.5H1795.5V543.5H1796.5V581.5H1797.5V613.5H1798.5V637.5H1799.5V651.5H1800.5V659.5H1801.5V665.5H1802.5V667.5H1803.5V669.5H1804.5V673.5H1805.5H1806.5V669.5H1807.5V673.5H1808.5H1809.5V671.5H1810.5V675.5H1811.5V677.5H1812.5V675.5H1813.5H1814.5V677.5H1815.5V675.5H1816.5H1817.5V677.5H1818.5H1820.5H1821.5V673.5H1822.5H1823.5H1824.5H1825.5H1826.5V671.5H1827.5V667.5H1828.5V665.5H1829.5V667.5H1830.5H1831.5V659.5H1832.5H1833.5H1834.5V655.5H1835.5V657.5H1836.5V655.5H1837.5V651.5H1838.5V655.5H1839.5H1840.5V657.5H1841.5V659.5H1842.5V657.5H1843.5V655.5H1844.5V653.5H1845.5V647.5H1846.5V645.5H1848.5V640.5H1849.5V643.5H1850.5H1851.5V645.5H1852.5V647.5H1853.5V653.5H1854.5H1855.5H1856.5V657.5H1857.5H1858.5V655.5H1859.5H1860.5V657.5H1861.5H1862.5V659.5H1863.5V661.5H1864.5V663.5H1865.5V665.5H1866.5V667.5H1867.5H1868.5V663.5H1869.5V665.5H1870.5V669.5H1871.5V671.5H1872.5H1873.5V673.5H1874.5V671.5H1875.5V673.5H1877.5H1878.5V675.5H1879.5H1880.5V673.5H1881.5V677.5H1882.5H1883.5V675.5H1884.5V677.5H1885.5H1886.5V679.5H1887.5V677.5H1888.5H1889.5V679.5H1890.5V677.5H1891.5V679.5H1892.5V677.5H1893.5V675.5H1894.5H1895.5V677.5H1896.5V679.5H1897.5V681.5H1898.5V677.5H1899.5H1900.5V679.5H1901.5V675.5H1902.5V677.5H1903.5H1905.5H1906.5H1907.5V679.5H1908.5H1909.5V675.5H1910.5H1911.5V681.5H1912.5V683.5H1913.5V679.5H1914.5V677.5H1915.5H1916.5V675.5H1917.5V679.5H1918.5V677.5H1919.5V675.5H1920.5H1921.5H1922.5"/><use href="#mw900" y="1"/><path d="M1160.5,680.5V673.5M1225.5,668.5V659.5M1226.5,660.5V643.5M1228.5,644.5V619.5M1229.5,620.5V587.5M1230.5,588.5V553.5M1231.5,554.5V536.5M1294.5,680.5V673.5M1307.5,674.5V667.5M1314.5,662.5V655.5M1315.5,656.5V645.5M1316.5,646.5V623.5M1317.5,624.5V585.5M1318.5,586.5V523.5M1319.5,524.5V437.5M1320.5,438.5V331.5M1321.5,332.5V227.5M1322.5,228.5V157.5M1323.5,158.5V150.5M1347.5,668.5V661.5M1348.5,662.5V653.5M1349.5,654.5V645.5M1413.5,674.5V667.5M1448.5,666.5V657.5M1449.5,658.5V645.5M1450.5,646.5V627.5M1451.5,628.5V603.5M1453.5,604.5V577.5M1454.5,578.5V557.5M1455.5,558.5V550.5M1631.5,666.5V657.5M1632.5,658.5V649.5M1689.5,664.5V657.5M1690.5,658.5V647.5M1691.5,648.5V631.5M1692.5,632.5V613.5M1693.5,614.5V593.5M1694.5,594.5V575.5M1695.5,576.5V565.5M1778.5,678.5V671.5M1784.5,662.5V655.5M1785.5,656.5V641.5M1786.5,642.5V621.5M1787.5,622.5V593.5M1788.5,594.5V557.5M1789.5,558.5V519.5M1791.5,520.5V491.5M1830.5,668.5V659.5M1844.5,654.5V647.5M1847.5,646.5V640.5"/>
<path id="mw1000" d="M1063.5,1116.5V1114.5V1112.5V1114.5V1116.5H1064.5V1114.5H1065.5H1066.5V1116.5H1067.5H1068.5V1114.5H1069.5V1116.5H1070.5V1114.5H1071.5V1112.5H1072.5H1073.5V1114.5H1074.5H1075.5V1116.5H1076.5H1077.5H1078.5H1079.5H1080.5V1112.5H1081.5V1114.5H1082.5V1116.5H1083.5H1084.5V1114.5H1085.5V1116.5H1086.5V1114.5H1088.5H1089.5H1090.5V1116.5H1091.5V1114.5H1092.5V1116.5H1093.5H1094.5H1095.5V1114.5H1096.5V1112.5H1097.5V1116.5H1098.5H1099.5V1114.5H1100.5V1110.5H1101.5V1114.5H1102.5V1116.5H1103.5H1104.5V1114.5H1105.5V1116.5H1106.5H1107.5H1108.5H1109.5H1110.5H1111.5H1112.5V1112.5H1113.5V1116.5H1114.5V1112.5H1116.5H1117.5V1114.5H1118.5V1116.5H1119.5V1112.5H1120.5V1114.5H1121.5V1116.5H1122.5V1114.5H1123.5H1124.5V1112.5H1125.5V1116.5H1126.5H1127.5H1128.5V1114.5H1129.5V1112.5H1130.5V1116.5H1131.5V1114.5H1132.5V1116.5H1133.5V1114.5H1134.5V1112.5H1135.5V1114.5H1136.5H1137.5V1116.5H1138.5V1112.5H1139.5V1116.5H1140.5V1112.5H1141.5H1142.5V1116.5H1144.5H1145.5H1146.5V1114.5H1147.5V1116.5H1148.5H1149.5H1150.5H1151.5H1152.5V1114.5H1153.5V1116.5H1154.5H1155.5H1156.5V1110.5H1157.5V1116.5H1158.5V1112.5H1159.5H1160.5V1114.5H1161.5V1116.5H1162.5H1163.5H1164.5V1114.5H1165.5H1166.5V1116.5H1167.5H1168.5H1169.5V1114.5H1170.5V1116.5H1172.5V1114.5H1173.5V1116.5H1174.5H1175.5H1176.5H1177.5V1112.5H1178.5V1116.5H1179.5H1180.5H1181.5H1182.5V1114.5H1183.5V1116.5H1184.5V1114.5H1185.5H1186.5V1112.5H1187.5V1116.5H1188.5V1114.5H1189.5H1190.5V1112.5H1191.5V1114.5H1192.5V1110.5H1193.5V1116.5H1194.5H1195.5H1196.5V1114.5H1197.5H1198.5V1116.5H1200.5H1201.5V1112.5H1202.5V1116.5H1203.5V1114.5H1204.5H1205.5V1116.5H1206.5V1114.5H1207.5V1116.5H1208.5V1114.5H1209.5V1112.5H1210.5V1114.5H1211.5H1212.5V1116.5H1213.5V1114.5H1214.5H1215.5H1216.5V1112.5H1217.5V1110.5H1218.5V1112.5H1219.5V1114.5H1220.5V1112.5H1221.5V1114.5H1222.5V1112.5H1223.5H1224.5H1225.5V1108.5H1226.5V1102.5H1227.5V1090.5H1229.5V1072.5H1230.5V1048.5H1231.5V1022.5H1232.5V1009.5H1233.5V1018.5H1234.5V1040.5H1235.5V1066.5H1236.5V1086.5H1237.5V1100.5H1238.5V1106.5H1239.5V1110.5H1240.5V1112.5H1241.5H1242.5H1243.5V1114.5H1244.5V1110.5H1245.5V1114.5H1246.5V1112.5H1247.5V1114.5H1248.5V1112.5H1249.5V1110.5H1250.5H1251.5V1116.5H1252.5H1253.5H1254.5V1114.5H1255.5V1116.5H1257.5V1114.5H1258.5H1259.5V1116.5H1260.5H1261.5H1262.5V1114.5H1263.5H1264.5V1116.5H1265.5V1114.5H1266.5H1267.5H1268.5V1116.5H1269.5V1114.5H1270.5H1271.5V1116.5H1272.5V1112.5H1273.5V1114.5H1274.5H1275.5H1276.5H1277.5H1278.5H1279.5V1116.5H1280.5V1112.5H1281.5V1114.5H1282.5V1116.5H1283.5H1285.5V1114.5H1286.5V1116.5H1287.5H1288.5H1289.5V1114.5H1290.5H1291.5H1292.5H1293.5V1112.5H1294.5H1295.5V1114.5H1296.5H1297.5V1112.5H1298.5V1110.5H1299.5H1300.5V1112.5H1301.5H1302.5V1110.5H1303.5V1114.5H1304.5V1112.5H1305.5H1306.5H1307.5H1308.5H1309.5V1110.5H1310.5H1311.5V1108.5H1313.5H1314.5V1106.5H1315.5V1102.5H1316.5V1098.5H1317.5V1090.5H1318.5V1072.5H1319.5V1034.5H1320.5V964.5H1321.5V858.5H1322.5V734.5H1323.5V638.5H1324.5V627.5H1325.5V712.5H1326.5V836.5H1327.5V946.5H1328.5V1024.5H1329.5V1066.5H1330.5V1088.5H1331.5V1098.5H1332.5V1102.5H1333.5V1104.5H1334.5V1106.5H1335.5V1108.5H1336.5V1110.5H1337.5H1338.5H1339.5V1112.5H1341.5H1342.5H1343.5H1344.5H1345.5H1346.5V1110.5H1347.5V1108.5H1348.5V1102.5H1349.5V1096.5H1350.5V1090.5H1351.5V1086.5H1352.5V1088.5H1353.5V1092.5H1354.5V1100.5H1355.5V1106.5H1356.5V1110.5H1357.5V1112.5H1358.5V1114.5H1359.5V1112.5H1360.5H1361.5V1114.5H1362.5V1110.5H1363.5V1114.5H1364.5V1112.5H1365.5V1114.5H1366.5V1116.5H1367.5V1114.5H1369.5H1370.5V1116.5H1371.5H1372.5H1373.5H1374.5H1375.5H1376.5V1110.5H1377.5V1114.5H1378.5V1116.5H1379.5V1114.5H1380.5V1116.5H1381.5V1110.5H1382.5V1112.5H1383.5V1114.5H1384.5V1116.5H1385.5V1114.5H1386.5V1116.5H1387.5H1388.5V1114.5H1389.5V1112.5H1390.5V1114.5H1391.5V1116.5H1392.5V1112.5H1393.5V1114.5H1394.5V1116.5H1395.5H1396.5H1398.5H1399.5V1114.5H1400.5V1116.5H1401.5H1402.5H1403.5H1404.5H1405.5V1114.5H1406.5V1116.5H1407.5H1408.5V1114.5H1409.5V1116.5H1410.5V1114.5H1411.5V1116.5H1412.5H1413.5V1114.5H1414.5H1415.5V1116.5H1416.5V1112.5H1417.5V1116.5H1418.5V1112.5H1419.5V1116.5H1420.5V1114.5H1421.5V1110.5H1422.5V1114.5H1423.5V1116.5H1424.5V1112.5H1426.5V1116.5H1427.5H1428.5H1429.5V1114.5H1430.5V1116.5H1431.5V1114.5H1432.5V1116.5H1433.5H1434.5V1114.5H1435.5V1116.5H1436.5V1110.5H1437.5V1112.5H1438.5H1439.5H1440.5H1441.5V1110.5H1442.5V1112.5H1443.5H1444.5H1445.5H1446.5H1447.5V1110.5H1448.5V1104.5H1449.5V1096.5H1450.5V1082.5H1451.5V1062.5H1452.5V1034.5H1454.5V1010.5H1455.5V995.5H1456.5V1000.5H1457.5V1022.5H1458.5V1050.5H1459.5V1074.5H1460.5V1090.5H1461.5V1102.5H1462.5V1108.5H1463.5V1110.5H1464.5V1112.5H1465.5H1466.5V1114.5H1467.5V1112.5H1468.5H1469.5H1470.5V1114.5H1471.5H1472.5H1473.5H1474.5V1116.5H1475.5V1114.5H1476.5V1116.5H1477.5H1478.5H1479.5V1114.5H1480.5V1112.5H1482.5V1116.5H1483.5V1114.5H1484.5V1116.5H1485.5V1114.5H1486.5V1110.5H1487.5V1114.5H1488.5V1116.5H1489.5H1490.5V1114.5H1491.5H1492.5H1493.5V1116.5H1494.5H1495.5H1496.5H1497.5V1114.5H1498.5V1112.5H1499.5V1114.5H1500.5V1116.5H1501.5V1114.5H1502.5H1503.5H1504.5V1116.5H1505.5H1506.5V1114.5H1507.5V1116.5H1508.5H1510.5V1114.5H1511.5H1512.5V1116.5H1513.5V1114.5H1514.5V1112.5H1515.5H1516.5V1114.5H1517.5V1116.5H1518.5H1519.5V1114.5H1520.5V1116.5H1521.5V1114.5H1522.5V1116.5H1523.5V1114.5H1524.5V1116.5H1525.5H1526.5V1114.5H1527.5H1528.5H1529.5H1530.5H1531.5V1116.5H1532.5H1533.5V1112.5H1534.5V1114.5H1535.5H1536.5V1116.5H1538.5H1539.5V1114.5H1540.5H1541.5V1116.5H1542.5V1114.5H1543.5H1544.5H1545.5V1116.5H1546.5V1114.5H1547.5V1116.5H1548.5V1112.5H1549.5H1550.5V1116.5H1551.5H1552.5H1553.5V1112.5H1554.5H1555.5V1116.5H1556.5H1557.5V1114.5H1558.5V1116.5H1559.5H1560.5H1561.5V1108.5H1562.5V1114.5H1563.5H1564.5V1116.5H1565.5V1114.5H1567.5V1112.5H1568.5V1116.5H1569.5H1570.5V1114.5H1571.5V1116.5H1572.5H1573.5V1114.5H1574.5V1112.5H1575.5V1114.5H1576.5H1577.5V1116.5H1578.5H1579.5H1580.5H1581.5H1582.5V1114.5H1583.5H1584.5V1116.5H1585.5V1114.5H1586.5V1116.5H1587.5H1588.5V1112.5H1589.5V1116.5H1590.5V1114.5H1591.5V1112.5H1592.5V1116.5H1593.5H1595.5V1112.5H1596.5V1116.5H1597.5H1598.5V1112.5H1599.5V1116.5H1600.5V1114.5H1601.5H1602.5V1116.5H1603.5V1114.5H1604.5V1116.5H1605.5H1606.5V1114.5H1607.5V1116.5H1608.5H1609.5V1114.5H1610.5V1112.5H1611.5V1116.5H1612.5V1114.5H1613.5V1116.5H1614.5V1112.5H1615.5V1116.5H1616.5V1114.5H1617.5V1116.5H1618.5H1619.5V1114.5H1620.5V1112.5H1621.5V1116.5H1623.5V1114.5H1624.5H1625.5V1112.5H1626.5V1114.5H1627.5V1112.5H1628.5H1629.5V1110.5H1630.5V1106.5H1631.5V1102.5H1632.5V1094.5H1633.5V1088.5H1634.5V1080.5H1635.5V1077.5H1636.5V1078.5H1637.5V1084.5H1638.5V1092.5H1639.5V1098.5H1640.5V1104.5H1641.5V1108.5H1642.5V1112.5H1643.5H1644.5V1114.5H1645.5H1646.5V1110.5H1647.5V1112.5H1648.5V1116.5H1649.5V1114.5H1651.5V1110.5H1652.5V1116.5H1653.5H1654.5V1114.5H1655.5H1656.5V1110.5H1657.5V1116.5H1658.5H1659.5H1660.5V1114.5H1661.5H1662.5V1116.5H1663.5V1112.5H1664.5V1114.5H1665.5V1116.5H1666.5V1114.5H1667.5V1116.5H1668.5V1112.5H1669.5V1114.5H1670.5V1112.5H1671.5V1116.5H1672.5H1673.5V1114.5H1674.5H1675.5H1676.5H1677.5V1112.5H1679.5V1114.5H1680.5V1112.5H1681.5H1682.5V1114.5H1683.5V1110.5H1684.5V1114.5H1685.5H1686.5V1112.5H1687.5H1688.5V1110.5H1689.5V1108.5H1690.5V1102.5H1691.5V1094.5H1692.5V1080.5H1693.5V1064.5H1694.5V1044.5H1695.5V1028.5H1696.5V1017.5H1697.5V1020.5H1698.5V1032.5H1699.5V1050.5H1700.5V1068.5H1701.5V1084.5H1702.5V1096.5H1703.5V1104.5H1704.5V1108.5H1705.5V1110.5H1706.5V1112.5H1708.5H1709.5H1710.5H1711.5H1712.5V1110.5H1713.5H1714.5H1715.5V1108.5H1716.5H1717.5H1718.5H1719.5H1720.5H1721.5H1722.5H1723.5H1724.5V1110.5H1725.5H1726.5V1112.5H1727.5H1728.5H1729.5H1730.5V1110.5H1731.5V1114.5H1732.5V1108.5H1733.5V1112.5H1734.5V1114.5H1736.5H1737.5H1738.5V1116.5H1739.5H1740.5H1741.5H1742.5H1743.5H1744.5H1745.5H1746.5V1114.5H1747.5V1116.5H1748.5V1112.5H1749.5V1116.5H1750.5V1114.5H1751.5V1112.5H1752.5V1116.5H1753.5H1754.5H1755.5V1114.5H1756.5V1116.5H1757.5H1758.5V1114.5H1759.5V1112.5H1760.5V1114.5H1761.5H1762.5H1764.5V1112.5H1765.5V1114.5H1766.5V1110.5H1767.5V1114.5H1768.5H1769.5H1770.5V1110.5H1771.5H1772.5V1112.5H1773.5V1108.5H1774.5V1114.5H1775.5V1112.5H1776.5H1777.5H1778.5H1779.5V1110.5H1780.5H1781.5V1108.5H1782.5H1783.5V1104.5H1784.5V1100.5H1785.5V1092.5H1786.5V1080.5H1787.5V1058.5H1788.5V1028.5H1789.5V992.5H1790.5V952.5H1792.5V924.5H1793.5V920.5H1794.5V942.5H1795.5V978.5H1796.5V1018.5H1797.5V1050.5H1798.5V1074.5H1799.5V1090.5H1800.5V1098.5H1801.5V1104.5H1802.5V1106.5H1803.5V1108.5H1804.5V1110.5H1805.5H1806.5V1112.5H1807.5H1808.5H1809.5H1810.5H1811.5H1812.5V1110.5H1813.5V1114.5H1814.5H1815.5V1110.5H1816.5V1114.5H1817.5V1110.5H1818.5V1114.5H1820.5H1821.5H1822.5V1112.5H1823.5H1824.5H1825.5V1110.5H1826.5H1827.5V1108.5H1828.5H1829.5V1106.5H1830.5H1831.5V1108.5H1832.5H1833.5H1834.5V1110.5H1835.5H1836.5V1112.5H1837.5H1838.5H1839.5H1840.5V1110.5H1841.5V1108.5H1842.5V1106.5H1843.5V1102.5H1844.5V1100.5H1845.5V1096.5H1846.5V1092.5H1848.5V1090.5H1849.5H1850.5V1092.5H1851.5V1094.5H1852.5V1098.5H1853.5V1100.5H1854.5V1102.5H1855.5V1104.5H1856.5H1857.5V1106.5H1858.5H1859.5H1860.5H1861.5H1862.5H1863.5V1108.5H1864.5H1865.5H1866.5H1867.5V1110.5H1868.5H1869.5H1870.5V1112.5H1871.5H1872.5H1873.5H1874.5V1114.5H1875.5H1877.5H1878.5V1112.5H1879.5H1880.5V1114.5H1881.5V1116.5H1882.5H1883.5H1884.5H1885.5H1886.5V1114.5H1887.5H1888.5H1889.5H1890.5V1116.5H1891.5H1892.5V1114.5H1893.5V1116.5H1894.5V1114.5H1895.5H1896.5V1116.5H1897.5V1114.5H1898.5V1116.5H1899.5V1112.5H1900.5V1116.5H1901.5V1114.5H1902.5H1903.5H1905.5H1906.5V1116.5H1907.5V1114.5H1908.5H1909.5V1116.5H1910.5V1114.5H1911.5V1116.5H1912.5H1913.5H1914.5H1915.5H1916.5H1917.5H1918.5H1919.5H1920.5V1114.5H1921.5V1112.5H1922.5V1114.5"/><use href="#mw1000" y="1"/><path d="M1155.5,1117.5V1110.5M1225.5,1109.5V1102.5M1226.5,1103.5V1090.5M1228.5,1091.5V1072.5M1229.5,1073.5V1048.5M1230.5,1049.5V1022.5M1231.5,1023.5V1009.5M1316.5,1099.5V1090.5M1317.5,1091.5V1072.5M1318.5,1073.5V1034.5M1319.5,1035.5V964.5M1320.5,965.5V858.5M1321.5,859.5V734.5M1322.5,735.5V638.5M1323.5,639.5V627.5M1347.5,1109.5V1102.5M1348.5,1103.5V1096.5M1349.5,1097.5V1090.5M1375.5,1117.5V1110.5M1380.5,1117.5V1110.5M1435.5,1117.5V1110.5M1447.5,1111.5V1104.5M1448.5,1105.5V1096.5M1449.5,1097.5V1082.5M1450.5,1083.5V1062.5M1451.5,1063.5V1034.5M1453.5,1035.5V1010.5M1454.5,1011.5V995.5M1560.5,1117.5V1108.5M1631.5,1103.5V1094.5M1632.5,1095.5V1088.5M1633.5,1089.5V1080.5M1689.5,1109.5V1102.5M1690.5,1103.5V1094.5M1691.5,1095.5V1080.5M1692.5,1081.5V1064.5M1693.5,1065.5V1044.5M1694.5,1045.5V1028.5M1695.5,1029.5V1017.5M1731.5,1115.5V1108.5M1784.5,1101.5V1092.5M1785.5,1093.5V1080.5M1786.5,1081.5V1058.5M1787.5,1059.5V1028.5M1788.5,1029.5V992.5M1789.5,993.5V952.5M1791.5,953.5V924.5"/>
</g>
<g fill="none" stroke="#000" stroke-width="8" stroke-linecap="round" stroke-linejoin="miter">
<path d="M123.0,39 V1155.8"/>
<path d="M123.0,1124.8 H987 V1141.0"/>
<path d="M1059.0,471 V1155.8"/>
<path d="M1059.0,1124.8 H1922.5 V1141.0"/>
</g>
<g fill="none" stroke="#000" stroke-width="8.8" stroke-linecap="round">
<path d="M296.3,1124.8 V1140.6"/>
<path d="M469.1,1124.8 V1155.3999999999999"/>
<path d="M641.9,1124.8 V1140.6"/>
<path d="M814.7,1124.8 V1155.3999999999999"/>
<path d="M1232.3,1124.8 V1140.6"/>
<path d="M1405.1,1124.8 V1155.3999999999999"/>
<path d="M1577.9,1124.8 V1140.6"/>
<path d="M1750.7,1124.8 V1155.3999999999999"/>
</g>
<path d="M69.6,256.5 V763.7" stroke="#000" stroke-width="2.7" fill="none" stroke-linecap="butt"/>
<path d="M69.9,254.3 L80.8,295.6 H60.2 Z" fill="#000" stroke="#000" stroke-width="0.8" stroke-linejoin="round"/>
<path d="M689.5,1332.5 H1409.8" stroke="#000" stroke-width="7" fill="none" stroke-linecap="round"/>
<path d="M1412.5,1332.5 L1328.8,1311.6 V1353.4 Z" fill="#000" stroke="#000" stroke-width="1.4" stroke-linejoin="round"/>
<g transform="rotate(-90) scale(0.6937,0.7000)"><text style="font-kerning:none" xml:space="preserve"><tspan x="-765.73" y="425.71" font-size="100.00" font-family="'Liberation Sans', Arial, sans-serif">(220)</tspan></text></g>
<g transform="rotate(-90) scale(0.6937,0.7000)"><text style="font-kerning:none" xml:space="preserve"><tspan x="-337.57" y="517.71" font-size="100.00" font-family="'Liberation Sans', Arial, sans-serif">(3<tspan dx="3">11</tspan><tspan dx="-3">)</tspan></tspan></text><rect x="-244.17" y="509.31" width="23.20" height="10.40" fill="#fff"/><rect x="-211.12" y="509.31" width="20.45" height="10.40" fill="#fff"/><rect x="-188.57" y="509.31" width="23.20" height="10.40" fill="#fff"/><rect x="-155.52" y="509.31" width="20.45" height="10.40" fill="#fff"/></g>
<g transform="rotate(-90) scale(0.6937,0.7000)"><text style="font-kerning:none" xml:space="preserve"><tspan x="-919.55" y="677.14" font-size="100.00" font-family="'Liberation Sans', Arial, sans-serif">(222)</tspan></text></g>
<g transform="rotate(-90) scale(0.6937,0.7000)"><text style="font-kerning:none" xml:space="preserve"><tspan x="-739.35" y="806.71" font-size="100.00" font-family="'Liberation Sans', Arial, sans-serif">(400)</tspan></text></g>
<g transform="rotate(-90) scale(0.6937,0.7000)"><text style="font-kerning:none" xml:space="preserve"><tspan x="-897.93" y="998.57" font-size="100.00" font-family="'Liberation Sans', Arial, sans-serif">(422)</tspan></text></g>
<g transform="rotate(-90) scale(0.6937,0.7000)"><text style="font-kerning:none" xml:space="preserve"><tspan x="-759.53" y="1153.43" font-size="100.00" font-family="'Liberation Sans', Arial, sans-serif">(333)</tspan></text></g>
<g transform="rotate(-90) scale(0.6937,0.7000)"><text style="font-kerning:none" xml:space="preserve"><tspan x="-693.65" y="1301.00" font-size="100.00" font-family="'Liberation Sans', Arial, sans-serif">(440)</tspan></text></g>
<g transform="rotate(-90) scale(0.6937,0.7000)"><text style="font-kerning:none" xml:space="preserve"><tspan x="-766.74" y="1770.00" font-size="100.00" font-family="'Liberation Sans', Arial, sans-serif">(220)</tspan></text></g>
<g transform="rotate(-90) scale(0.6937,0.7000)"><text style="font-kerning:none" xml:space="preserve"><tspan x="-491.39" y="1835.71" font-size="100.00" font-family="'Liberation Sans', Arial, sans-serif">(3<tspan dx="3">11</tspan><tspan dx="-3">)</tspan></tspan></text><rect x="-397.99" y="1827.31" width="23.20" height="10.40" fill="#fff"/><rect x="-364.94" y="1827.31" width="20.45" height="10.40" fill="#fff"/><rect x="-342.39" y="1827.31" width="23.20" height="10.40" fill="#fff"/><rect x="-309.34" y="1827.31" width="20.45" height="10.40" fill="#fff"/></g>
<g transform="rotate(-90) scale(0.6937,0.7000)"><text style="font-kerning:none" xml:space="preserve"><tspan x="-919.55" y="2015.29" font-size="100.00" font-family="'Liberation Sans', Arial, sans-serif">(222)</tspan></text></g>
<g transform="rotate(-90) scale(0.6937,0.7000)"><text style="font-kerning:none" xml:space="preserve"><tspan x="-773.95" y="2132.00" font-size="100.00" font-family="'Liberation Sans', Arial, sans-serif">(400)</tspan></text></g>
<g transform="rotate(-90) scale(0.6937,0.7000)"><text style="font-kerning:none" xml:space="preserve"><tspan x="-890.72" y="2349.57" font-size="100.00" font-family="'Liberation Sans', Arial, sans-serif">(422)</tspan></text></g>
<g transform="rotate(-90) scale(0.6937,0.7000)"><text style="font-kerning:none" xml:space="preserve"><tspan x="-783.46" y="2474.86" font-size="100.00" font-family="'Liberation Sans', Arial, sans-serif">(333)</tspan></text></g>
<g transform="rotate(-90) scale(0.6937,0.7000)"><text style="font-kerning:none" xml:space="preserve"><tspan x="-644.20" y="2623.86" font-size="100.00" font-family="'Liberation Sans', Arial, sans-serif">(440)</tspan></text></g>
<g transform="scale(0.7245,0.7887)"><text style="font-kerning:none" xml:space="preserve"><tspan x="108.71" y="1564.54" font-size="99.62" font-family="'Liberation Sans', Arial, sans-serif" stroke="#000" stroke-width="0.8" stroke-linejoin="round" textLength="62.08" lengthAdjust="spacingAndGlyphs">2</tspan><tspan x="172.30" y="1564.80" font-size="100.00" font-family="'Liberation Sans', Arial, sans-serif" stroke="#000" stroke-width="0.8" stroke-linejoin="round" textLength="55.62" lengthAdjust="spacingAndGlyphs">0</tspan></text></g>
<g transform="scale(0.7184,0.7887)"><text style="font-kerning:none" xml:space="preserve"><tspan x="592.19" y="1564.54" font-size="97.26" font-family="'Liberation Sans', Arial, sans-serif" stroke="#000" stroke-width="0.8" stroke-linejoin="round" textLength="57.69" lengthAdjust="spacingAndGlyphs">4</tspan><tspan x="653.91" y="1564.80" font-size="100.00" font-family="'Liberation Sans', Arial, sans-serif" stroke="#000" stroke-width="0.8" stroke-linejoin="round" textLength="55.62" lengthAdjust="spacingAndGlyphs">0</tspan></text></g>
<g transform="scale(0.7224,0.7887)"><text style="font-kerning:none" xml:space="preserve"><tspan x="1065.59" y="1564.80" font-size="100.00" font-family="'Liberation Sans', Arial, sans-serif" stroke="#000" stroke-width="0.8" stroke-linejoin="round" textLength="61.10" lengthAdjust="spacingAndGlyphs">6</tspan><tspan x="1128.98" y="1564.80" font-size="100.00" font-family="'Liberation Sans', Arial, sans-serif" stroke="#000" stroke-width="0.8" stroke-linejoin="round" textLength="55.62" lengthAdjust="spacingAndGlyphs">0</tspan></text></g>
<g transform="scale(0.7184,0.7887)"><text style="font-kerning:none" xml:space="preserve"><tspan x="1412.74" y="1564.54" font-size="99.62" font-family="'Liberation Sans', Arial, sans-serif" stroke="#000" stroke-width="0.8" stroke-linejoin="round" textLength="62.45" lengthAdjust="spacingAndGlyphs">2</tspan><tspan x="1476.61" y="1564.80" font-size="100.00" font-family="'Liberation Sans', Arial, sans-serif" stroke="#000" stroke-width="0.8" stroke-linejoin="round" textLength="55.62" lengthAdjust="spacingAndGlyphs">0</tspan></text></g>
<g transform="scale(0.7224,0.7887)"><text style="font-kerning:none" xml:space="preserve"><tspan x="1884.58" y="1564.54" font-size="97.26" font-family="'Liberation Sans', Arial, sans-serif" stroke="#000" stroke-width="0.8" stroke-linejoin="round" textLength="57.36" lengthAdjust="spacingAndGlyphs">4</tspan><tspan x="1945.65" y="1564.80" font-size="100.00" font-family="'Liberation Sans', Arial, sans-serif" stroke="#000" stroke-width="0.8" stroke-linejoin="round" textLength="55.62" lengthAdjust="spacingAndGlyphs">0</tspan></text></g>
<g transform="scale(0.7184,0.7887)"><text style="font-kerning:none" xml:space="preserve"><tspan x="2373.37" y="1564.80" font-size="100.00" font-family="'Liberation Sans', Arial, sans-serif" stroke="#000" stroke-width="0.8" stroke-linejoin="round" textLength="61.12" lengthAdjust="spacingAndGlyphs">6</tspan><tspan x="2437.12" y="1564.80" font-size="100.00" font-family="'Liberation Sans', Arial, sans-serif" stroke="#000" stroke-width="0.8" stroke-linejoin="round" textLength="55.62" lengthAdjust="spacingAndGlyphs">0</tspan></text></g>
<g transform="scale(0.7566,0.7570)"><text style="font-kerning:none" xml:space="preserve"><tspan x="473.82" y="1791.15" font-size="103.98" font-family="'Liberation Sans', Arial, sans-serif">2</tspan><tspan x="528.48" y="1791.77" font-size="83.16" font-family="'DejaVu Math TeX Gyre', 'DejaVu Serif', 'Liberation Serif', serif" font-style="italic" textLength="59.46" lengthAdjust="spacingAndGlyphs">θ</tspan><tspan x="580.49" y="1791.15" font-size="100.00" font-family="'Liberation Sans', Arial, sans-serif"> (deg)</tspan></text></g>
<g transform="rotate(-90) scale(0.7639,0.7780)"><text style="font-kerning:none" xml:space="preserve"><tspan x="-1406.24" y="96.40" font-size="100.00" font-family="'Liberation Sans', Arial, sans-serif">Int (a.u.)</tspan></text></g>
<g transform="scale(0.7701,0.7817)"><text style="font-kerning:none" xml:space="preserve"><tspan x="729.49" y="1101.74" font-size="100.00" font-family="'Liberation Sans', Arial, sans-serif" font-weight="bold">CV</tspan></text></g>
<g transform="scale(0.7805,0.7971)"><text style="font-kerning:none" xml:space="preserve"><tspan x="1948.19" y="1088.82" font-size="100.00" font-family="'Liberation Sans', Arial, sans-serif" font-weight="bold" letter-spacing="-6.3">MW</tspan></text></g>
<g transform="scale(0.8132,0.8592)"><text style="font-kerning:none" xml:space="preserve"><tspan x="2385.30" y="821.90" font-size="100.00" font-family="'Liberation Sans', Arial, sans-serif" stroke="#000" stroke-width="0.6" stroke-linejoin="round">900</tspan><tspan x="2552.95" y="768.46" font-size="62.25" font-family="'Liberation Sans', Arial, sans-serif" stroke="#000" stroke-width="0.6" stroke-linejoin="round">o</tspan><tspan x="2583.14" y="821.88" font-size="101.80" font-family="'Liberation Sans', Arial, sans-serif" stroke="#000" stroke-width="0.6" stroke-linejoin="round">C</tspan></text></g>
<g transform="scale(0.8094,0.8620)"><text style="font-kerning:none" xml:space="preserve"><tspan x="2407.96" y="1305.38" font-size="101.39" font-family="'Liberation Sans', Arial, sans-serif" stroke="#000" stroke-width="0.6" stroke-linejoin="round" textLength="58.94" lengthAdjust="spacingAndGlyphs">1</tspan><tspan x="2464.52" y="1305.42" font-size="100.00" font-family="'Liberation Sans', Arial, sans-serif" stroke="#000" stroke-width="0.6" stroke-linejoin="round">000</tspan><tspan x="2632.95" y="1251.97" font-size="61.77" font-family="'Liberation Sans', Arial, sans-serif" stroke="#000" stroke-width="0.6" stroke-linejoin="round">o</tspan><tspan x="2664.92" y="1305.41" font-size="101.63" font-family="'Liberation Sans', Arial, sans-serif" stroke="#000" stroke-width="0.6" stroke-linejoin="round">C</tspan></text><rect x="2409.60" y="1296.86" width="24.52" height="10.54" fill="#fff"/><rect x="2444.57" y="1296.86" width="21.67" height="10.54" fill="#fff"/></g>
<rect x="561" y="870" width="105" height="8.9" fill="#000"/>
<rect x="1520" y="875" width="133" height="8.9" fill="#000"/>
</g>
</svg>
</body></html>
